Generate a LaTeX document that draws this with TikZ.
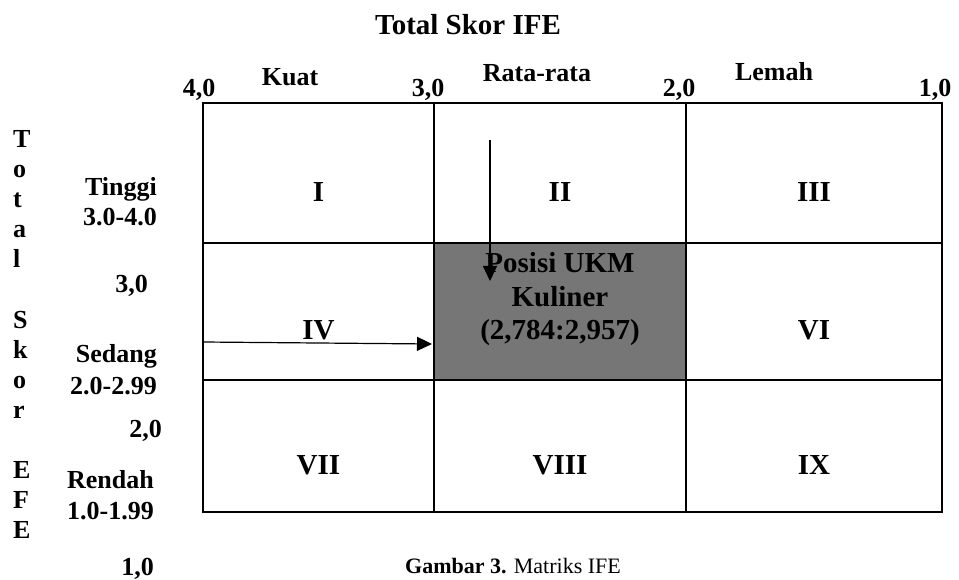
\documentclass[tikz,border=0pt]{standalone}
\usepackage{fontspec}
\setmainfont{Liberation Serif}
\usetikzlibrary{arrows.meta,positioning,calc}
\definecolor{cellgrey}{RGB}{118,118,118}
\tikzset{
  cell/.style={
    draw=black,
    line width=1.8pt,
    inner sep=0pt,
    outer sep=0pt
  },
  lbl/.style={
    font=\fontsize{26}{30}\selectfont\bfseries,
    inner sep=0pt
  },
  biglbl/.style={
    font=\fontsize{29}{33}\selectfont\bfseries,
    inner sep=0pt
  },
  caplbl/.style={
    font=\fontsize{22}{26}\selectfont,
    inner sep=0pt
  },
  arrow/.style={-{Triangle[length=15pt,width=14pt]}, line width=1.2pt}
}

\begin{document}
\begin{tikzpicture}[x=1pt,y=-1pt]
  \useasboundingbox (0,0) rectangle (959,580);

  % matrix cells
  \node[cell, minimum width=231pt, minimum height=140pt] (c11) at (318.5,173) {};
  \node[cell, minimum width=252pt, minimum height=140pt] (c12) at (560,173) {};
  \node[cell, minimum width=256pt, minimum height=140pt] (c13) at (814,173) {};
  \node[cell, minimum width=231pt, minimum height=137pt] (c21) at (318.5,311.5) {};
  \node[cell, fill=cellgrey, minimum width=252pt, minimum height=137pt] (c22) at (560,311.5) {};
  \node[cell, minimum width=256pt, minimum height=137pt] (c23) at (814,311.5) {};
  \node[cell, minimum width=231pt, minimum height=132pt] (c31) at (318.5,446) {};
  \node[cell, minimum width=252pt, minimum height=132pt] (c32) at (560,446) {};
  \node[cell, minimum width=256pt, minimum height=132pt] (c33) at (814,446) {};

  % cell numbers
  \node[biglbl, anchor=base] (n1) at (318.5,201.5) {I};
  \node[biglbl, anchor=base] (n2) at (560,201.5) {II};
  \node[biglbl, anchor=base] (n3) at (814,201.5) {III};
  \node[biglbl, anchor=base] (n4) at (318.5,339.5) {IV};
  \node[biglbl, anchor=base] (n6) at (814,339.5) {VI};
  \node[biglbl, anchor=base] (n7) at (318.5,474.5) {VII};
  \node[biglbl, anchor=base] (n8) at (560,474.5) {VIII};
  \node[biglbl, anchor=base] (n9) at (814,474.5) {IX};

  % position of the firm
  \node[biglbl, anchor=base] (pos1) at (560,272.5) {Posisi UKM};
  \node[biglbl, anchor=base] (pos2) at (560,306.5) {Kuliner};
  \node[biglbl, anchor=base] (pos3) at (560,339.5) {(2,784:2,957)};

  % top axis
  \node[biglbl, anchor=base] (title) at (468,35) {Total Skor IFE};
  \node[lbl, anchor=base] (t40) at (199,97) {4,0};
  \node[lbl, anchor=base] (kuat) at (290,86) {Kuat};
  \node[lbl, anchor=base] (t30) at (428,97) {3,0};
  \node[lbl, anchor=base] (rata) at (537,82) {Rata-rata};
  \node[lbl, anchor=base] (t20) at (679,97) {2,0};
  \node[lbl, anchor=base] (lemah) at (774,81) {Lemah};
  \node[lbl, anchor=base] (t10) at (935,97) {1,0};

  % left axis
  \foreach \ch/\k in {T/0,o/1,t/2,a/3,l/4,S/6,k/7,o/8,r/9,E/11,F/12,E/13}
    \node[lbl, anchor=base west] (v\k) at (13,148+30*\k) {\ch};
  \node[lbl, anchor=base east] (tinggi) at (157,196) {Tinggi};
  \node[lbl, anchor=base east] (r1) at (157,226) {3.0-4.0};
  \node[lbl, anchor=base east] (s30) at (148,292) {3,0};
  \node[lbl, anchor=base east] (sedang) at (157,362) {Sedang};
  \node[lbl, anchor=base east] (r2) at (157,394) {2.0-2.99};
  \node[lbl, anchor=base east] (s20) at (162,437) {2,0};
  \node[lbl, anchor=base east] (rendah) at (154,488) {Rendah};
  \node[lbl, anchor=base east] (r3) at (154,519) {1.0-1.99};
  \node[lbl, anchor=base east] (s10) at (154,575) {1,0};

  % caption
  \node[caplbl, anchor=base] (cap) at (513,573) {\textbf{Gambar 3.} Matriks IFE};

  % arrows to the position
  \coordinate (vtop) at (490,140);
  \coordinate (vtip) at (490,281);
  \coordinate (hstart) at (c21.west |- 0,342);
  \coordinate (htip) at (432,344);
  \draw[arrow] (vtop) -- (vtip);
  \draw[arrow] (hstart) -- (htip);
\end{tikzpicture}
\end{document}
